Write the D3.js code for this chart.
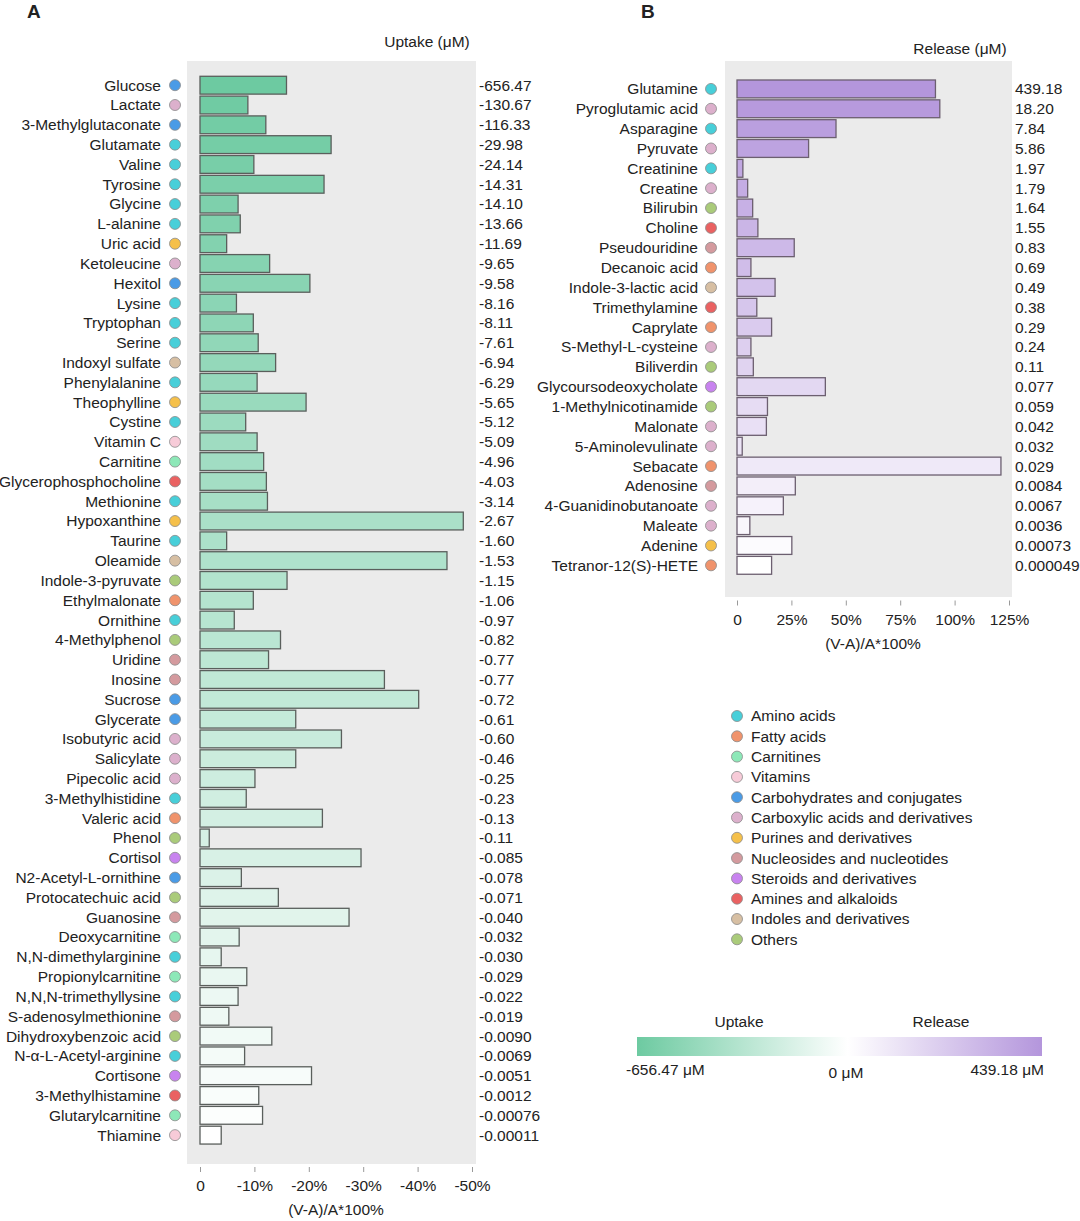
<!DOCTYPE html>
<html>
  <head>
    <meta charset="utf-8" />
    <title>Uptake and release</title>
    <style>
      body { margin: 0; background: #fff; }
      svg text { font-family: "Liberation Sans", Arial, sans-serif; fill: #222; }
    </style>
  </head>
  <body>
    <svg id="chart" width="1080" height="1221"></svg>
    <script src="https://d3js.org/d3.v7.min.js"></script>
    <script>
      // metabolite classes (legend order)
      const classKeys = ["AA", "FA", "CN", "VT", "CH", "CX", "PU", "NU", "ST", "AM", "IN", "OT"];
      const classNames = [
        "Amino acids", "Fatty acids", "Carnitines", "Vitamins",
        "Carbohydrates and conjugates", "Carboxylic acids and derivatives",
        "Purines and derivatives", "Nucleosides and nucleotides",
        "Steroids and derivatives", "Amines and alkaloids",
        "Indoles and derivatives", "Others"
      ];
      const classColors = [
        "#48cfd9", "#f0936c", "#8de8b8", "#f7cbd8", "#4a9be6", "#dcb0cc",
        "#f5c04a", "#d49a9e", "#c883ef", "#ea6262", "#d7bfa3", "#aacb7a"
      ];

      // panel A - uptake
      const uptakeNames = [
        "Glucose", "Lactate", "3-Methylglutaconate", "Glutamate", "Valine", "Tyrosine",
        "Glycine", "L-alanine", "Uric acid", "Ketoleucine", "Hexitol", "Lysine",
        "Tryptophan", "Serine", "Indoxyl sulfate", "Phenylalanine", "Theophylline",
        "Cystine", "Vitamin C", "Carnitine", "Glycerophosphocholine", "Methionine",
        "Hypoxanthine", "Taurine", "Oleamide", "Indole-3-pyruvate", "Ethylmalonate",
        "Ornithine", "4-Methylphenol", "Uridine", "Inosine", "Sucrose", "Glycerate",
        "Isobutyric acid", "Salicylate", "Pipecolic acid", "3-Methylhistidine",
        "Valeric acid", "Phenol", "Cortisol", "N2-Acetyl-L-ornithine",
        "Protocatechuic acid", "Guanosine", "Deoxycarnitine", "N,N-dimethylarginine",
        "Propionylcarnitine", "N,N,N-trimethyllysine", "S-adenosylmethionine",
        "Dihydroxybenzoic acid", "N-α-L-Acetyl-arginine", "Cortisone",
        "3-Methylhistamine", "Glutarylcarnitine", "Thiamine"
      ];
      const uptakeClass = [
        "CH", "CX", "CH", "AA", "AA", "AA", "AA", "AA", "PU", "CX", "CH", "AA",
        "AA", "AA", "IN", "AA", "PU", "AA", "VT", "CN", "AM", "AA",
        "PU", "AA", "IN", "OT", "FA", "AA", "OT", "NU", "NU", "CH", "CH",
        "CX", "CX", "CX", "AA", "FA", "OT", "ST", "CH", "OT", "NU", "CN", "AA",
        "CN", "AA", "NU", "OT", "AA", "ST", "AM", "CN", "VT"
      ];
      const uptakeConc = [
        "-656.47", "-130.67", "-116.33", "-29.98", "-24.14", "-14.31", "-14.10",
        "-13.66", "-11.69", "-9.65", "-9.58", "-8.16", "-8.11", "-7.61", "-6.94",
        "-6.29", "-5.65", "-5.12", "-5.09", "-4.96", "-4.03", "-3.14", "-2.67",
        "-1.60", "-1.53", "-1.15", "-1.06", "-0.97", "-0.82", "-0.77", "-0.77",
        "-0.72", "-0.61", "-0.60", "-0.46", "-0.25", "-0.23", "-0.13", "-0.11",
        "-0.085", "-0.078", "-0.071", "-0.040", "-0.032", "-0.030", "-0.029",
        "-0.022", "-0.019", "-0.0090", "-0.0069", "-0.0051", "-0.0012",
        "-0.00076", "-0.00011"
      ];
      const uptakePct = [
        -15.9, -8.8, -12.1, -24.1, -9.9, -22.8, -7.0, -7.4, -4.9, -12.8, -20.2, -6.7,
        -9.8, -10.7, -13.9, -10.5, -19.5, -8.4, -10.5, -11.7, -12.2, -12.4,
        -48.4, -4.9, -45.4, -16.0, -9.8, -6.3, -14.8, -12.6, -33.9, -40.2, -17.6,
        -26.0, -17.6, -10.1, -8.5, -22.5, -1.7, -29.6, -7.6, -14.4, -27.4, -7.2, -3.9,
        -8.6, -7.0, -5.3, -13.2, -8.2, -20.5, -10.8, -11.5, -3.9
      ];
      const uptakeTicks = [0, -10, -20, -30, -40, -50];

      // panel B - release
      const releaseNames = [
        "Glutamine", "Pyroglutamic acid", "Asparagine", "Pyruvate", "Creatinine",
        "Creatine", "Bilirubin", "Choline", "Pseudouridine", "Decanoic acid",
        "Indole-3-lactic acid", "Trimethylamine", "Caprylate", "S-Methyl-L-cysteine",
        "Biliverdin", "Glycoursodeoxycholate", "1-Methylnicotinamide", "Malonate",
        "5-Aminolevulinate", "Sebacate", "Adenosine", "4-Guanidinobutanoate",
        "Maleate", "Adenine", "Tetranor-12(S)-HETE"
      ];
      const releaseClass = [
        "AA", "CX", "AA", "CX", "AA", "CX", "OT", "AM", "NU", "FA", "IN", "AM", "FA",
        "CX", "OT", "ST", "OT", "CX", "CX", "FA", "NU", "CX", "CX", "PU", "FA"
      ];
      const releaseConc = [
        "439.18", "18.20", "7.84", "5.86", "1.97", "1.79", "1.64", "1.55", "0.83",
        "0.69", "0.49", "0.38", "0.29", "0.24", "0.11", "0.077", "0.059", "0.042",
        "0.032", "0.029", "0.0084", "0.0067", "0.0036", "0.00073", "0.000049"
      ];
      const releasePct = [
        91.2, 93.2, 45.5, 32.9, 2.7, 4.9, 7.2, 9.6, 26.3, 6.4, 17.5, 9.1, 15.9,
        6.4, 7.5, 40.6, 14.0, 13.5, 2.4, 121.3, 26.8, 21.3, 5.9, 25.2, 15.9
      ];
      const releaseTicks = [0, 25, 50, 75, 100, 125];

      const uptakeColor = "#6dcaa1";
      const releaseColor = "#b496dc";
      const fs = "15.5px";

      const svg = d3.select("#chart");
      const classColor = d3.scaleOrdinal().domain(classKeys).range(classColors);

      function drawPanel(opt) {
        const n = opt.names.length;
        const rows = d3.range(n);
        const g = svg.append("g");

        g.append("rect")
          .attr("x", opt.bg[0]).attr("y", opt.bg[1])
          .attr("width", opt.bg[2] - opt.bg[0]).attr("height", opt.bg[3] - opt.bg[1])
          .attr("fill", "#ebebeb");

        const x = d3.scaleLinear().domain(opt.xDomain).range(opt.xRange);
        const y = d3.scaleBand().domain(rows).range(opt.yRange).paddingInner(0.1).paddingOuter(0.05);

        // rank based shade, darkest at the top
        const shade = (i) => d3.interpolateRgb("#ffffff", opt.color)(1 - i / (n - 1));

        g.selectAll("rect.bar")
          .data(rows)
          .join("rect")
          .attr("class", "bar")
          .attr("x", x(0))
          .attr("y", (i) => y(i))
          .attr("width", (i) => Math.abs(x(opt.pct[i]) - x(0)))
          .attr("height", y.bandwidth())
          .attr("fill", shade)
          .attr("stroke", opt.stroke)
          .attr("stroke-width", 1.3);

        const cy = (i) => y(i) + y.bandwidth() / 2;

        g.selectAll("text.name")
          .data(rows)
          .join("text")
          .attr("class", "name")
          .attr("x", opt.nameX)
          .attr("y", cy)
          .attr("dy", "0.35em")
          .attr("text-anchor", "end")
          .style("font-size", fs)
          .text((i) => opt.names[i]);

        g.selectAll("circle.cls")
          .data(rows)
          .join("circle")
          .attr("class", "cls")
          .attr("cx", opt.dotX)
          .attr("cy", cy)
          .attr("r", 5.5)
          .attr("fill", (i) => classColor(opt.cls[i]))
          .attr("stroke", "#8a8a8a")
          .attr("stroke-width", 0.8);

        g.selectAll("text.val")
          .data(rows)
          .join("text")
          .attr("class", "val")
          .attr("x", opt.valX)
          .attr("y", cy)
          .attr("dy", "0.35em")
          .style("font-size", fs)
          .text((i) => opt.conc[i]);

        const axis = g.append("g")
          .attr("transform", "translate(0," + opt.axisY + ")")
          .call(
            d3.axisBottom(x)
              .tickValues(opt.ticks)
              .tickSize(5)
              .tickPadding(8)
              .tickFormat((d) => (d === 0 ? "0" : d + "%"))
          );
        axis.select(".domain").remove();
        axis.selectAll(".tick line").attr("stroke", "#999");
        axis.selectAll("text")
          .style("font-size", fs)
          .style("font-family", "'Liberation Sans', Arial, sans-serif")
          .attr("fill", "#333");

        g.append("text")
          .attr("x", (opt.xRange[0] + opt.xRange[1]) / 2)
          .attr("y", opt.axisY + 48)
          .attr("text-anchor", "middle")
          .style("font-size", fs)
          .text("(V-A)/A*100%");

        g.append("text")
          .attr("x", opt.titleX)
          .attr("y", opt.titleY)
          .attr("text-anchor", "middle")
          .style("font-size", fs)
          .text(opt.title);

        g.append("text")
          .attr("x", opt.letterX)
          .attr("y", 18)
          .style("font-size", "19px")
          .style("font-weight", "bold")
          .text(opt.letter);
      }

      drawPanel({
        names: uptakeNames, cls: uptakeClass, conc: uptakeConc, pct: uptakePct,
        ticks: uptakeTicks, color: uptakeColor, stroke: "#5a5f5c",
        bg: [187, 61, 476, 1164],
        xDomain: [0, -50], xRange: [200, 472],
        yRange: [75.3, 75.3 + 54 * 19.81],
        nameX: 161, dotX: 175, valX: 479,
        axisY: 1167, title: "Uptake (μM)", titleX: 427, titleY: 47,
        letter: "A", letterX: 27
      });

      drawPanel({
        names: releaseNames, cls: releaseClass, conc: releaseConc, pct: releasePct,
        ticks: releaseTicks, color: releaseColor, stroke: "#6c5f70",
        bg: [725, 61, 1012, 597],
        xDomain: [0, 125], xRange: [737, 1009],
        yRange: [79.0, 79.0 + 25 * 19.85],
        nameX: 698, dotX: 711, valX: 1015,
        axisY: 600.5, title: "Release (μM)", titleX: 960, titleY: 54,
        letter: "B", letterX: 641
      });

      // class legend
      const legend = svg.append("g").attr("transform", "translate(737,716)");
      const lg = legend.selectAll("g")
        .data(classKeys)
        .join("g")
        .attr("transform", (d, i) => "translate(0," + i * 20.3 + ")");
      lg.append("circle")
        .attr("r", 5.5)
        .attr("fill", (d) => classColor(d))
        .attr("stroke", "#8a8a8a")
        .attr("stroke-width", 0.8);
      lg.append("text")
        .attr("x", 14)
        .attr("dy", "0.35em")
        .style("font-size", fs)
        .text((d, i) => classNames[i]);

      // colour bar
      const defs = svg.append("defs");
      const grad = defs.append("linearGradient").attr("id", "cbar");
      grad.append("stop").attr("offset", "0%").attr("stop-color", uptakeColor);
      grad.append("stop").attr("offset", "52%").attr("stop-color", "#ffffff");
      grad.append("stop").attr("offset", "100%").attr("stop-color", releaseColor);

      svg.append("rect")
        .attr("x", 637).attr("y", 1037)
        .attr("width", 405).attr("height", 19)
        .attr("fill", "url(#cbar)");

      const cbText = [
        ["Uptake", 739, 1027, "middle"],
        ["Release", 941, 1027, "middle"],
        ["-656.47 μM", 626, 1075, "start"],
        ["0 μM", 846, 1078, "middle"],
        ["439.18 μM", 1044, 1075, "end"]
      ];
      svg.selectAll("text.cb")
        .data(cbText)
        .join("text")
        .attr("class", "cb")
        .attr("x", (d) => d[1])
        .attr("y", (d) => d[2])
        .attr("text-anchor", (d) => d[3])
        .style("font-size", fs)
        .text((d) => d[0]);
    </script>
  </body>
</html>
